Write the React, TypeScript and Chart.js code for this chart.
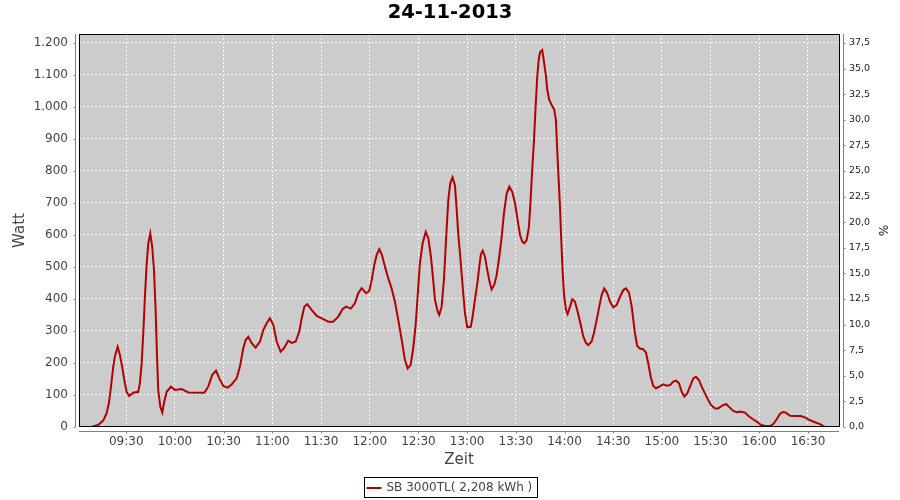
import React, { useEffect, useRef } from "react";
import { Chart, registerables } from "chart.js";

Chart.register(...registerables);

const chartTitle = "24-11-2013";
const seriesLabel = "SB 3000TL( 2,208 kWh )";
const xAxisTitle = "Zeit";
const yAxisTitle = "Watt";
const y2AxisTitle = "%";

const xTickLabels = ["09:30", "10:00", "10:30", "11:00", "11:30", "12:00", "12:30", "13:00", "13:30", "14:00", "14:30", "15:00", "15:30", "16:00", "16:30"];
const yTicks = [0, 100, 200, 300, 400, 500, 600, 700, 800, 900, 1000, 1100, 1200];
const y2Ticks = [0, 2.5, 5, 7.5, 10, 12.5, 15, 17.5, 20, 22.5, 25, 27.5, 30, 32.5, 35, 37.5];

// axis ranges (minutes of day / watt / percent)
const xMinMinute = 540.9;
const xMaxMinute = 1009.1;
const yMaxWatt = 1228;
const y2MaxPercent = 38.375;

// sample times in minutes of the day
const minutesOfDay = [
  549.1, 552.8, 555.8, 557.9, 559.3, 560.6, 562.0, 563.0, 564.7, 566.1,
  567.5, 568.8, 570.2, 571.8, 574.3, 577.4, 578.4, 579.5, 580.5, 581.5,
  582.6, 583.6, 584.8, 586.0, 587.1, 588.1, 588.9, 589.7, 591.0, 592.2,
  593.4, 594.9, 597.5, 600.0, 604.1, 608.2, 618.1, 620.5, 623.0, 625.3,
  627.3, 629.8, 632.5, 634.9, 638.0, 640.0, 642.1, 643.6, 645.2, 647.3,
  649.7, 652.4, 654.4, 656.5, 658.5, 660.6, 662.7, 665.1, 667.2, 669.8,
  671.9, 674.4, 676.6, 678.1, 679.7, 681.5, 684.2, 687.3, 691.4, 694.5,
  697.5, 700.6, 703.3, 705.4, 708.4, 710.9, 712.9, 715.0, 717.7, 719.7,
  721.2, 722.8, 724.3, 725.9, 727.5, 729.4, 731.4, 733.5, 735.5, 737.6,
  739.7, 741.7, 743.4, 745.2, 746.8, 748.3, 749.5, 750.9, 752.6, 754.5,
  756.1, 757.7, 759.1, 760.2, 761.9, 762.8, 764.3, 765.7, 767.0, 768.4,
  769.6, 771.0, 772.5, 773.6, 774.5, 775.6, 776.6, 777.6, 778.7, 780.1,
  782.2, 783.4, 784.8, 786.3, 787.5, 788.5, 789.6, 791.0, 792.4, 793.6,
  795.1, 796.7, 798.2, 799.8, 801.3, 802.7, 804.4, 806.0, 807.8, 809.5,
  811.1, 812.6, 814.0, 815.2, 816.7, 818.1, 819.1, 820.1, 821.2, 822.2,
  823.2, 824.1, 824.9, 826.3, 827.5, 828.6, 829.4, 830.6, 832.1, 833.7,
  834.7, 835.5, 836.4, 837.2, 838.0, 838.9, 839.8, 840.9, 841.9, 843.4,
  844.8, 846.4, 848.1, 850.0, 851.6, 853.2, 854.6, 856.7, 858.1, 859.8,
  861.4, 862.9, 864.5, 866.3, 868.0, 870.0, 872.1, 874.2, 876.2, 877.9,
  879.7, 881.4, 882.4, 883.4, 884.8, 886.5, 888.5, 890.2, 891.6, 893.1,
  894.7, 896.3, 898.4, 900.8, 902.9, 905.0, 907.0, 908.7, 910.5, 912.2,
  913.8, 915.6, 917.3, 919.3, 921.0, 922.8, 924.5, 926.5, 928.6, 930.2,
  932.7, 934.7, 937.2, 939.5, 941.5, 944.0, 946.1, 948.5, 951.2, 953.2,
  955.9, 958.4, 960.9, 963.5, 966.6, 968.6, 970.7, 972.7, 974.4, 976.4,
  978.9, 982.0, 985.5, 988.1, 990.8, 994.3, 997.4, 1000.0,
];

// power in watt
const watts = [
  1, 7, 20, 43, 74, 126, 188, 220, 251, 225,
  188, 147, 110, 97, 107, 110, 137, 199, 293, 407,
  511, 574, 605, 563, 491, 366, 230, 116, 63, 45,
  79, 110, 126, 116, 119, 108, 107, 126, 163, 176,
  152, 128, 123, 133, 152, 188, 246, 272, 282, 262,
  248, 267, 303, 324, 340, 319, 267, 235, 246, 270,
  263, 267, 298, 340, 376, 384, 366, 347, 337, 329,
  329, 345, 369, 376, 370, 387, 418, 434, 418, 425,
  459, 506, 538, 556, 538, 501, 465, 433, 392, 334,
  272, 209, 183, 194, 246, 319, 407, 511, 574, 610,
  590, 532, 459, 397, 360, 350, 376, 459, 584, 709,
  761, 780, 755, 678, 605, 543, 480, 418, 355, 312,
  313, 345, 397, 449, 501, 540, 551, 532, 491, 459,
  430, 444, 475, 532, 595, 668, 730, 751, 735, 699,
  647, 600, 579, 574, 584, 626, 709, 803, 897, 1001,
  1095, 1147, 1171, 1178, 1136, 1095, 1053, 1022, 1006, 991,
  959, 866, 772, 688, 584, 480, 407, 366, 353, 376,
  399, 392, 360, 319, 282, 263, 256, 267, 293, 334,
  376, 413, 433, 418, 392, 374, 381, 407, 428, 433,
  420, 376, 334, 293, 253, 245, 243, 232, 199, 157,
  128, 121, 126, 133, 129, 131, 142, 145, 137, 110,
  95, 105, 126, 152, 157, 147, 126, 105, 84, 69,
  58, 58, 67, 72, 62, 50, 46, 48, 45, 35,
  25, 17, 7, 3, 3, 9, 24, 41, 47, 45,
  35, 34, 34, 30, 22, 15, 9, 1,
];

const FONT = "'DejaVu Sans', sans-serif";
const LINE_COLOR = "#b40000";

const toMinutes = (s: string) => {
  const [h, m] = s.split(":").map(Number);
  return h * 60 + m;
};
const xTickValues = xTickLabels.map(toMinutes);

const formatWatt = (v: number) => {
  if (v >= 1000) {
    const th = Math.floor(v / 1000);
    return `${th}.${String(v - th * 1000).padStart(3, "0")}`;
  }
  return String(v);
};

const framePlugin = {
  id: "jfreeFrame",
  beforeDraw(chart: any) {
    const { ctx, chartArea: a } = chart;
    ctx.save();
    ctx.fillStyle = "#cccccc";
    ctx.fillRect(a.left, a.top, a.right - a.left, a.bottom - a.top);
    ctx.restore();
  },
  afterDraw(chart: any) {
    const { ctx, chartArea: a, scales } = chart;
    ctx.save();
    // plot outline
    ctx.strokeStyle = "#000000";
    ctx.lineWidth = 1;
    ctx.setLineDash([]);
    ctx.strokeRect(a.left + 0.5, a.top + 0.5, a.right - a.left, a.bottom - a.top - 1);

    // offset axis lines with tick marks
    ctx.strokeStyle = "#808080";
    const lx = a.left - 3.5;
    const rx = a.right + 4.5;
    const by = a.bottom + 4.5;
    ctx.beginPath();
    ctx.moveTo(lx, a.top);
    ctx.lineTo(lx, a.bottom);
    ctx.moveTo(rx, a.top);
    ctx.lineTo(rx, a.bottom);
    ctx.moveTo(a.left, by);
    ctx.lineTo(a.right, by);
    scales.y.ticks.forEach((t: any) => {
      const p = Math.round(scales.y.getPixelForValue(t.value)) + 0.5;
      ctx.moveTo(lx - 2, p);
      ctx.lineTo(lx, p);
    });
    scales.y2.ticks.forEach((t: any) => {
      const p = Math.round(scales.y2.getPixelForValue(t.value)) + 0.5;
      ctx.moveTo(rx, p);
      ctx.lineTo(rx + 2, p);
    });
    scales.x.ticks.forEach((t: any) => {
      const p = Math.round(scales.x.getPixelForValue(t.value)) + 0.5;
      ctx.moveTo(p, by);
      ctx.lineTo(p, by + 2);
    });
    ctx.stroke();

    // legend box
    ctx.font = `12px ${FONT}`;
    const tw = ctx.measureText(seriesLabel).width;
    const w = tw + 27;
    const h = 20;
    const cx = chart.width / 2;
    const bx = Math.round(cx - w / 2) + 0.5;
    const byy = 477.5;
    ctx.strokeStyle = "#000000";
    ctx.strokeRect(bx, byy, Math.round(w), h);
    const ly = byy + h / 2 + 0.5;
    ctx.strokeStyle = LINE_COLOR;
    ctx.lineWidth = 2;
    ctx.beginPath();
    ctx.moveTo(bx + 2, ly);
    ctx.lineTo(bx + 17, ly);
    ctx.stroke();
    ctx.fillStyle = "#444444";
    ctx.textAlign = "left";
    ctx.textBaseline = "middle";
    ctx.fillText(seriesLabel, bx + 22, ly);
    ctx.restore();
  },
};

export default function App() {
  const canvasRef = useRef<HTMLCanvasElement | null>(null);

  useEffect(() => {
    if (!canvasRef.current) return;
    Chart.defaults.font.family = FONT;
    const chart = new Chart(canvasRef.current, {
      type: "line",
      data: {
        datasets: [
          {
            label: seriesLabel,
            data: minutesOfDay.map((m, i) => ({ x: m, y: watts[i] })),
            borderColor: LINE_COLOR,
            backgroundColor: LINE_COLOR,
            borderWidth: 2,
            pointRadius: 0,
            fill: false,
            tension: 0,
            xAxisID: "x",
            yAxisID: "y",
          },
        ],
      },
      options: {
        animation: false,
        responsive: true,
        maintainAspectRatio: false,
        layout: { padding: 0 },
        plugins: {
          legend: { display: false },
          tooltip: { enabled: false },
          title: {
            display: true,
            text: chartTitle,
            color: "#000000",
            font: { family: FONT, size: 19.5, weight: "bold" },
            padding: { top: 0.8, bottom: 9.8 },
          },
        },
        scales: {
          x: {
            type: "linear",
            position: "bottom",
            min: xMinMinute,
            max: xMaxMinute,
            afterBuildTicks: (s: any) => {
              s.ticks = xTickValues.map((v) => ({ value: v }));
            },
            afterFit: (s: any) => {
              s.height = 73;
            },
            ticks: {
              autoSkip: false,
              maxRotation: 0,
              padding: 8,
              color: "#444444",
              font: { family: FONT, size: 12 },
              callback: (v: any) => xTickLabels[xTickValues.indexOf(Number(v))] ?? "",
            },
            grid: { color: "#ffffff", lineWidth: 1, drawTicks: false },
            border: { display: false, dash: [2, 2] },
            title: {
              display: true,
              text: xAxisTitle,
              color: "#444444",
              font: { family: FONT, size: 15 },
              padding: { top: 0, bottom: 31.2 },
            },
          },
          y: {
            type: "linear",
            position: "left",
            min: 0,
            max: yMaxWatt,
            afterBuildTicks: (s: any) => {
              s.ticks = yTicks.map((v) => ({ value: v }));
            },
            afterFit: (s: any) => {
              s.width = 79;
            },
            ticks: {
              padding: 11,
              color: "#444444",
              font: { family: FONT, size: 12 },
              callback: (v: any) => formatWatt(Number(v)),
            },
            grid: { color: "#ffffff", lineWidth: 1, drawTicks: false },
            border: { display: false, dash: [2, 2] },
            title: {
              display: true,
              text: yAxisTitle,
              color: "#444444",
              font: { family: FONT, size: 15 },
              padding: { top: 11, bottom: 0 },
            },
          },
          y2: {
            type: "linear",
            position: "right",
            min: 0,
            max: y2MaxPercent,
            afterBuildTicks: (s: any) => {
              s.ticks = y2Ticks.map((v) => ({ value: v }));
            },
            afterFit: (s: any) => {
              s.width = 61;
            },
            ticks: {
              padding: 10,
              color: "#222222",
              font: { family: FONT, size: 9.5 },
              callback: (v: any) => Number(v).toFixed(1).replace(".", ","),
            },
            grid: { display: false, drawTicks: false },
            border: { display: false },
            title: {
              display: true,
              text: y2AxisTitle,
              color: "#222222",
              font: { family: FONT, size: 12 },
              padding: { top: 10.8, bottom: 0 },
            },
          },
        },
      } as any,
      plugins: [framePlugin],
    });
    return () => chart.destroy();
  }, []);

  return (
    <div style={{ position: "fixed", left: 0, top: 0, width: 900, height: 500 }}>
      <canvas ref={canvasRef} />
    </div>
  );
}
